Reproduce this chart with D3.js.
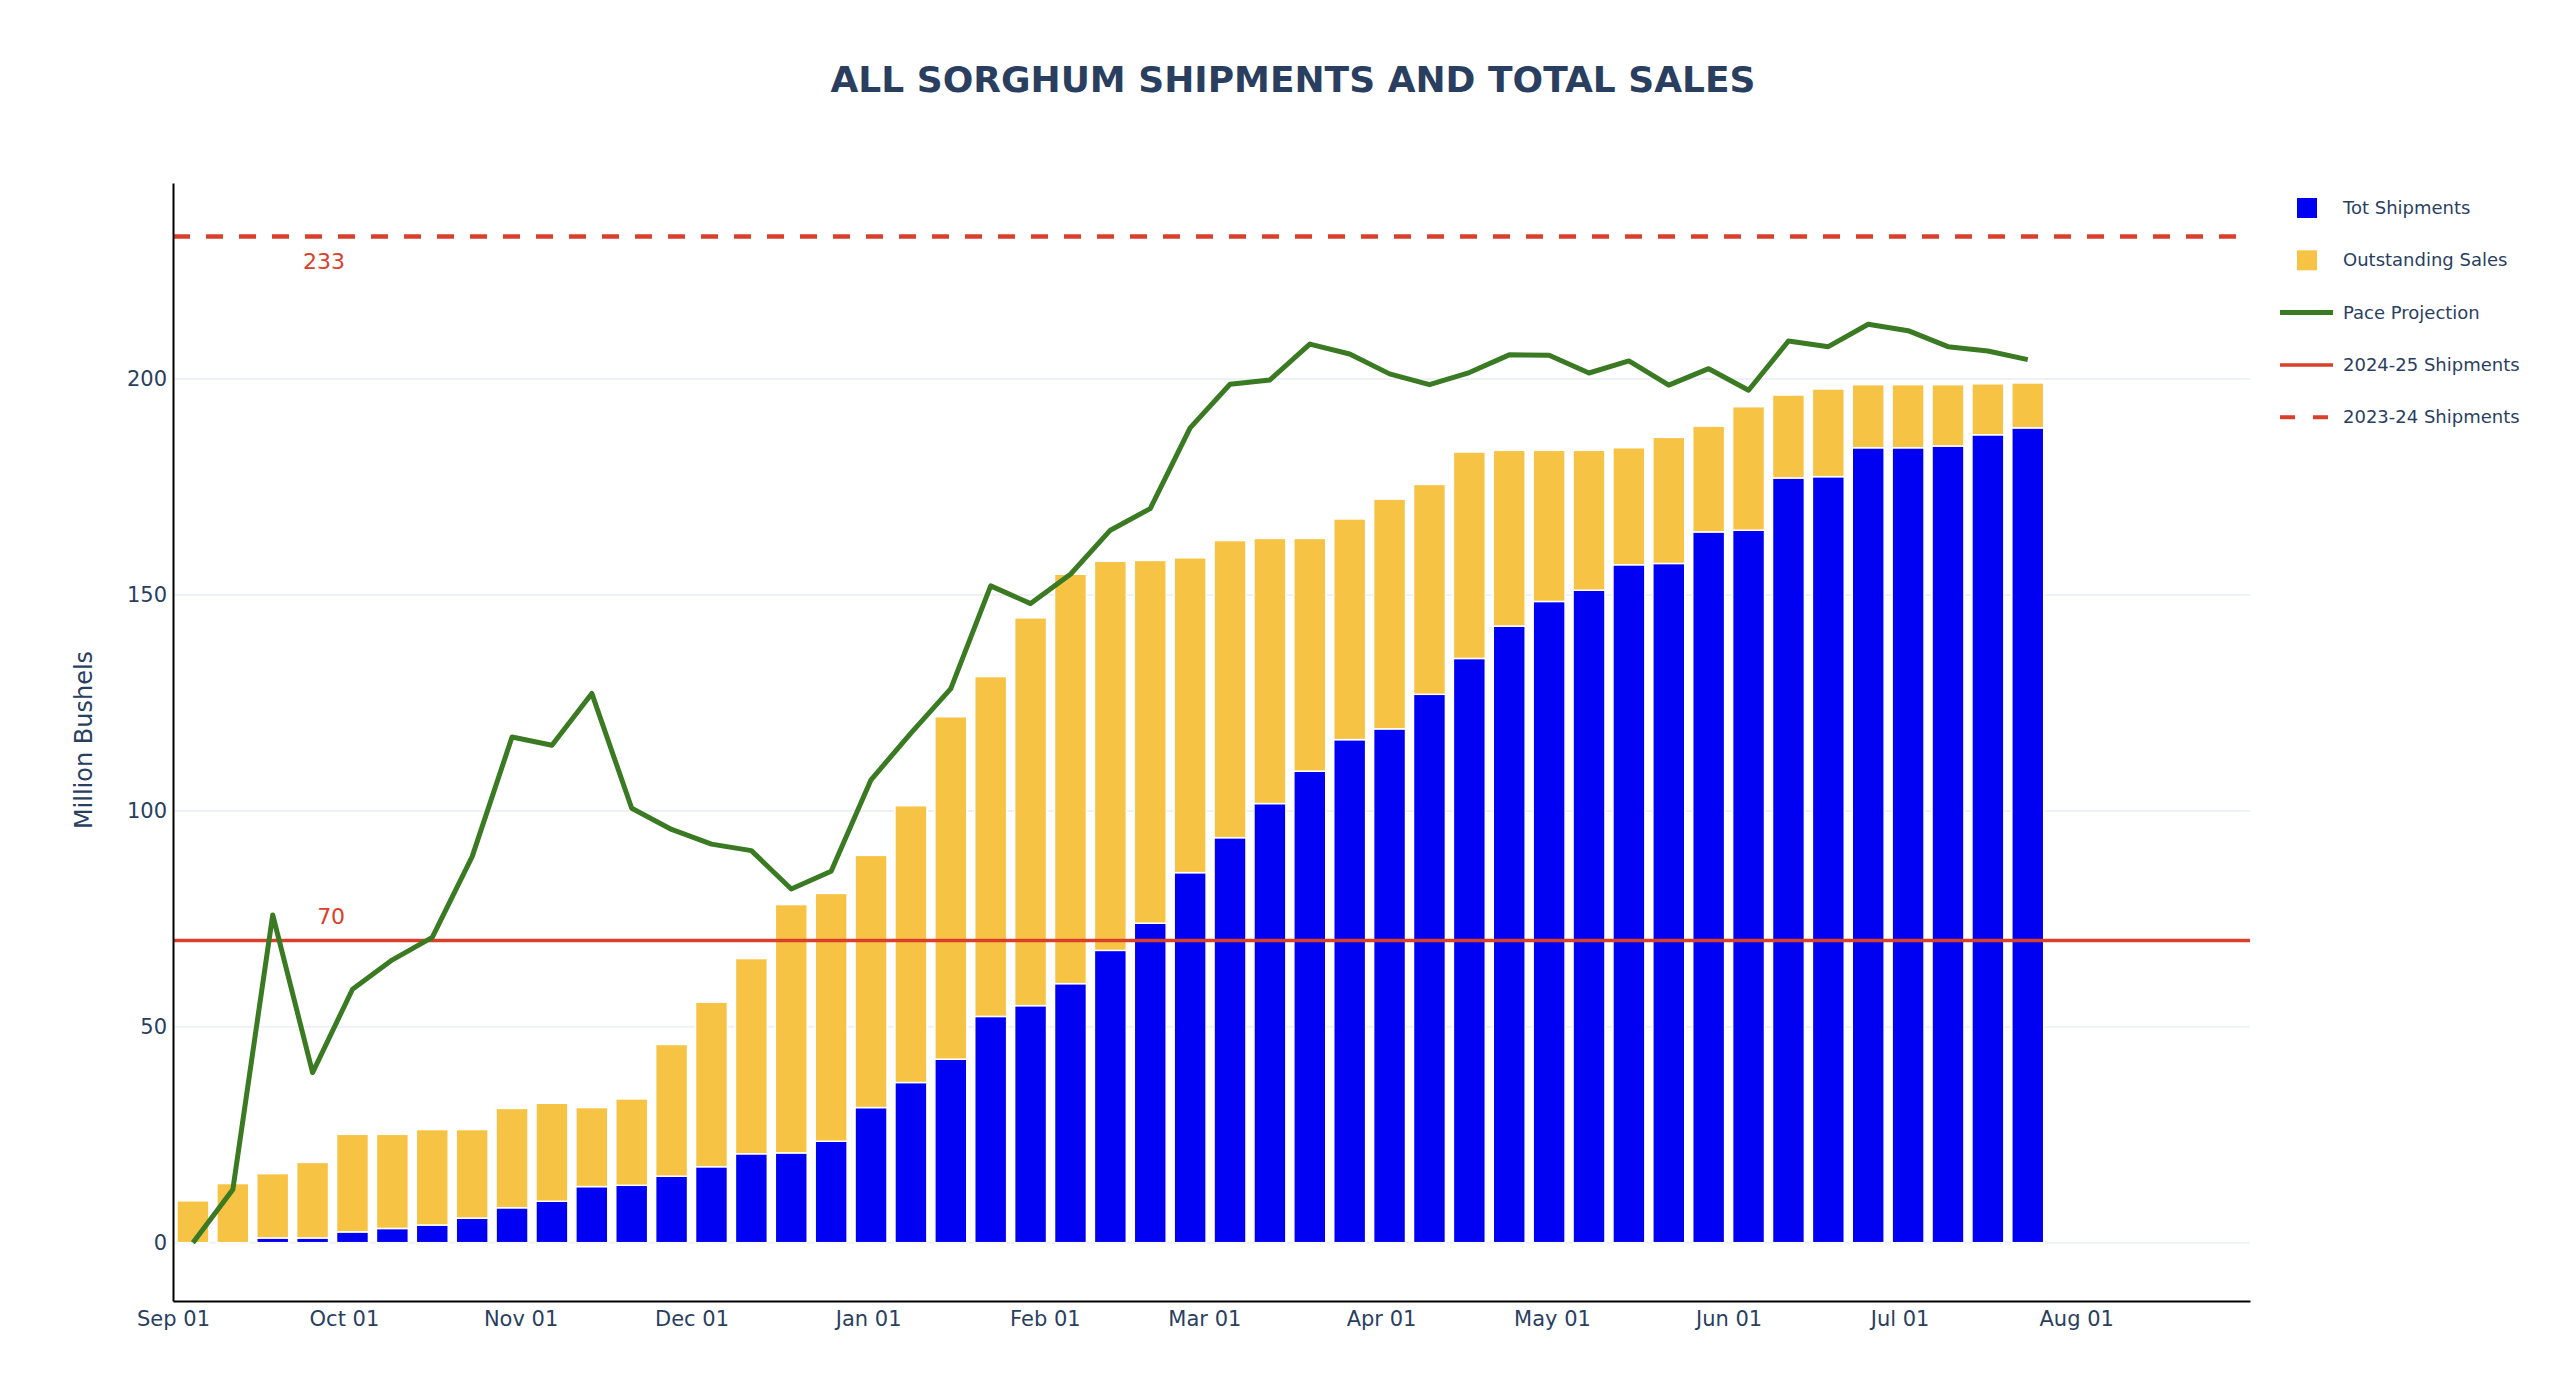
<!DOCTYPE html>
<html>
<head>
<meta charset="utf-8">
<script src="https://cdn.jsdelivr.net/npm/d3@7"></script>
<style>
  body { margin: 0; background: #fff; }
  text { font-family: "DejaVu Sans", Verdana, sans-serif; }
</style>
</head>
<body>
<svg id="chart" width="2560" height="1400"></svg>
<script>
// week ending dates
var weeks = [
  "2024-09-04", "2024-09-11", "2024-09-18", "2024-09-25",
  "2024-10-02", "2024-10-09", "2024-10-16", "2024-10-23", "2024-10-30",
  "2024-11-06", "2024-11-13", "2024-11-20", "2024-11-27",
  "2024-12-04", "2024-12-11", "2024-12-18", "2024-12-25",
  "2025-01-01", "2025-01-08", "2025-01-15", "2025-01-22", "2025-01-29",
  "2025-02-05", "2025-02-12", "2025-02-19", "2025-02-26",
  "2025-03-05", "2025-03-12", "2025-03-19", "2025-03-26",
  "2025-04-02", "2025-04-09", "2025-04-16", "2025-04-23", "2025-04-30",
  "2025-05-07", "2025-05-14", "2025-05-21", "2025-05-28",
  "2025-06-04", "2025-06-11", "2025-06-18", "2025-06-25",
  "2025-07-02", "2025-07-09", "2025-07-16", "2025-07-23"
];

var totShipments = [
  0, 0, 1.1, 1.1, 2.5, 3.3, 4.1, 5.7, 8.1, 9.6, 13.0, 13.3, 15.4,
  17.6, 20.6, 20.8, 23.5, 31.3, 37.1, 42.5, 52.4, 54.9, 60.0, 67.7, 74.0,
  85.7, 93.8, 101.7, 109.2, 116.5, 119.0, 127.0, 135.3, 142.8, 148.5, 151.1,
  157.0, 157.3, 164.6, 165.0, 177.1, 177.4, 184.1, 184.1, 184.5, 187.1, 188.7
];

var outstandingSales = [
  9.7, 13.7, 14.9, 17.5, 22.6, 21.8, 22.1, 20.5, 23.0, 22.7, 18.3, 20.0, 30.5,
  38.1, 45.2, 57.5, 57.4, 58.4, 64.1, 79.3, 78.7, 89.8, 94.8, 90.1, 84.0,
  72.9, 68.8, 61.4, 53.9, 51.1, 53.2, 48.6, 47.8, 40.7, 35.0, 32.4,
  27.1, 29.2, 24.5, 28.6, 19.2, 20.3, 14.6, 14.6, 14.2, 11.8, 10.4
];

var paceProjection = [
  0, 12.3, 75.9, 39.4, 58.7, 65.5, 70.7, 89.4, 117.1, 115.2, 127.2, 100.6, 95.7,
  92.3, 90.8, 81.9, 86.0, 107.2, 118.0, 128.3, 152.1, 148.0, 154.8, 165.0, 170.0,
  188.7, 198.8, 199.8, 208.1, 205.8, 201.2, 198.7, 201.5, 205.6, 205.5, 201.4,
  204.2, 198.6, 202.4, 197.4, 208.8, 207.5, 212.7, 211.2, 207.5, 206.5, 204.5
];

var refLines = [
  {name: "2024-25 Shipments", value: 70, dash: null},
  {name: "2023-24 Shipments", value: 233, dash: "17,16"}
];

var yTicks = [0, 50, 100, 150, 200];

var BLUE = "#0000f2", GOLD = "#f6c344", GREEN = "#3a7a22", RED = "#d9402c";
var INK = "#2a3f5f";

var svg = d3.select("#chart");
var plot = {left: 173, right: 2250, top: 183, bottom: 1301};

var parse = d3.timeParse("%Y-%m-%d");
var data = weeks.map(function(w, i) {
  return {
    date: d3.timeHour.offset(parse(w), 12),
    ship: totShipments[i],
    out: outstandingSales[i],
    pace: paceProjection[i]
  };
});

var x = d3.scaleTime()
  .domain([new Date(2024, 8, 1), new Date(2025, 7, 31, 12)])
  .range([plot.left, plot.right]);

var y = d3.scaleLinear()
  .domain([-13.5, 245.4])
  .range([plot.bottom, plot.top]);

var barW = (x(data[1].date) - x(data[0].date)) * 0.8;

/* grid lines */
svg.append("g")
  .selectAll("line")
  .data(yTicks)
  .join("line")
  .attr("x1", plot.left).attr("x2", plot.right)
  .attr("y1", d => y(d)).attr("y2", d => y(d))
  .attr("stroke", "#eef1f5")
  .attr("stroke-width", 2);

/* stacked bars */
var bars = svg.append("g");
bars.selectAll("rect.ship")
  .data(data)
  .join("rect")
  .attr("class", "ship")
  .attr("x", d => x(d.date) - barW / 2)
  .attr("width", barW)
  .attr("y", d => y(d.ship))
  .attr("height", d => y(0) - y(d.ship))
  .attr("fill", BLUE)
  .attr("stroke", "#fff")
  .attr("stroke-width", 1.5);

bars.selectAll("rect.out")
  .data(data)
  .join("rect")
  .attr("class", "out")
  .attr("x", d => x(d.date) - barW / 2)
  .attr("width", barW)
  .attr("y", d => y(d.ship + d.out))
  .attr("height", d => y(d.ship) - y(d.ship + d.out))
  .attr("fill", GOLD)
  .attr("stroke", "#fff")
  .attr("stroke-width", 1.5);

/* reference lines */
svg.append("g")
  .selectAll("line")
  .data(refLines)
  .join("line")
  .attr("x1", plot.left).attr("x2", plot.right)
  .attr("y1", d => y(d.value)).attr("y2", d => y(d.value))
  .attr("stroke", RED)
  .attr("stroke-width", d => d.dash ? 4.5 : 3.5)
  .attr("stroke-dasharray", d => d.dash);

// labels for the reference lines
svg.append("text")
  .attr("x", x(new Date(2024, 8, 27, 12)))
  .attr("y", y(233) + 32)
  .attr("text-anchor", "middle")
  .attr("fill", RED)
  .style("font-size", "22px")
  .text("233");
svg.append("text")
  .attr("x", x(new Date(2024, 8, 28, 18)))
  .attr("y", y(70) - 16)
  .attr("text-anchor", "middle")
  .attr("fill", RED)
  .style("font-size", "22px")
  .text("70");

/* pace projection line */
var line = d3.line()
  .x(d => x(d.date))
  .y(d => y(d.pace));
svg.append("path")
  .datum(data)
  .attr("d", line)
  .attr("fill", "none")
  .attr("stroke", GREEN)
  .attr("stroke-width", 5)
  .attr("stroke-linejoin", "round");

/* axes */
var xAxis = svg.append("g")
  .attr("transform", "translate(0," + plot.bottom + ")")
  .call(d3.axisBottom(x)
    .ticks(d3.timeMonth.every(1))
    .tickFormat(d3.timeFormat("%b %d"))
    .tickSize(0)
    .tickPadding(10));
xAxis.select(".domain").attr("stroke", "#000").attr("stroke-width", 2);
xAxis.selectAll("text")
  .attr("fill", INK)
  .style("font-size", "21px")
  .style("font-family", "'DejaVu Sans', Verdana, sans-serif");

var yAxis = svg.append("g")
  .attr("transform", "translate(" + plot.left + ",0)")
  .call(d3.axisLeft(y)
    .tickValues(yTicks)
    .tickSize(0)
    .tickPadding(6));
yAxis.select(".domain").attr("stroke", "#000").attr("stroke-width", 2);
yAxis.selectAll("text")
  .attr("fill", INK)
  .style("font-size", "21px")
  .style("font-family", "'DejaVu Sans', Verdana, sans-serif");

svg.append("text")
  .attr("transform", "translate(92," + ((plot.top + plot.bottom) / 2 - 2) + ") rotate(-90)")
  .attr("text-anchor", "middle")
  .attr("fill", INK)
  .style("font-size", "24px")
  .text("Million Bushels");

/* title */
svg.append("text")
  .attr("x", 1293)
  .attr("y", 92)
  .attr("text-anchor", "middle")
  .attr("fill", INK)
  .style("font-size", "36px")
  .style("font-weight", "bold")
  .text("ALL SORGHUM SHIPMENTS AND TOTAL SALES");

/* legend */
var legendItems = [
  {name: "Tot Shipments", kind: "box", color: BLUE},
  {name: "Outstanding Sales", kind: "box", color: GOLD},
  {name: "Pace Projection", kind: "line", color: GREEN, width: 5},
  {name: refLines[0].name, kind: "line", color: RED, width: 3.5},
  {name: refLines[1].name, kind: "dash", color: RED, width: 4}
];
var legend = svg.append("g")
  .selectAll("g")
  .data(legendItems)
  .join("g")
  .attr("transform", (d, i) => "translate(2280," + (208 + i * 52.3) + ")");

legend.filter(d => d.kind == "box")
  .append("rect")
  .attr("x", 17).attr("y", -10)
  .attr("width", 20).attr("height", 20)
  .attr("fill", d => d.color);
legend.filter(d => d.kind != "box")
  .append("line")
  .attr("x1", 0).attr("x2", 53)
  .attr("stroke", d => d.color)
  .attr("stroke-width", d => d.width)
  .attr("stroke-dasharray", d => d.kind == "dash" ? "15,18" : null);
legend.append("text")
  .attr("x", 63)
  .attr("y", 6)
  .attr("fill", INK)
  .style("font-size", "18px")
  .text(d => d.name);
</script>
</body>
</html>
